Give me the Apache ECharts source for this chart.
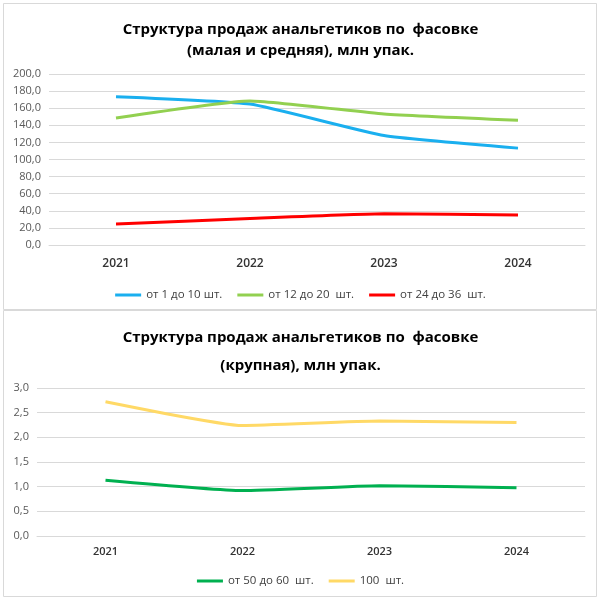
<!DOCTYPE html>
<html><head><meta charset="utf-8">
<script src="https://cdn.jsdelivr.net/npm/echarts@6/dist/echarts.min.js"></script>
<style>html,body{margin:0;padding:0;background:#fff}#c{width:601px;height:600px}</style>
</head><body><div id="c"></div>
<script>
const years = ['2021','2022','2023','2024'];
const s1Names = ['от 1 до 10 шт.', 'от 12 до 20  шт.', 'от 24 до 36  шт.'];
const s1_1to10 = [173.5, 164.8, 128.0, 113.3];
const s1_12to20 = [148.5, 168.5, 153.2, 145.8];
const s1_24to36 = [24.6, 31.0, 36.5, 35.0];
const s2Names = ['от 50 до 60  шт.', '100  шт.'];
const s2_50to60 = [1.13, 0.92, 1.02, 0.98];
const s2_100 = [2.72, 2.24, 2.33, 2.30];
const yTicks1 = [0, 200, 20];
const yTicks2 = [0, 3, 0.5];

const font = 'Open Sans';
const chart = echarts.init(document.getElementById('c'), null, {renderer:'canvas'});
const fmt = v => v.toFixed(1).replace('.', ',');
function yAxis(idx, t){
  return {gridIndex: idx, type:'value', min:t[0], max:t[1], interval:t[2],
    axisLine:{show:false}, axisTick:{show:false},
    splitLine:{lineStyle:{color:'#d9d9d9', width:1}},
    axisLabel:{color:'#595959', fontFamily:font, fontSize:11, formatter: fmt, margin:8}};
}
function xAxis(idx, fs, m){
  return {gridIndex: idx, type:'category', data: years, boundaryGap:true,
    axisLine:{show:true, lineStyle:{color:'#d9d9d9'}}, axisTick:{show:false},
    axisLabel:{color:'#333333', fontFamily:font, fontSize:fs, fontWeight:600, margin:m}};
}
function line(name, data, color, idx){
  return {name, type:'line', data, xAxisIndex:idx, yAxisIndex:idx, symbol:'none',
    smooth:0.15, lineStyle:{color, width:3}, itemStyle:{color}};
}
chart.setOption({
  backgroundColor:'#fff',
  animation:false,
  graphic:[
    {type:'rect', shape:{x:3.5, y:3.5, width:593, height:306}, style:{fill:'none', stroke:'#d9d9d9', lineWidth:1}},
    {type:'rect', shape:{x:3.5, y:310.5, width:593, height:286}, style:{fill:'none', stroke:'#d9d9d9', lineWidth:1}}
  ],
  title:[
    {text:'Структура продаж анальгетиков по  фасовке\n(малая и средняя), млн упак.', left:'center', top:14,
     textStyle:{fontFamily:font, fontSize:15, fontWeight:'bold', color:'#000', lineHeight:21}},
    {text:'Структура продаж анальгетиков по  фасовке\n(крупная), млн упак.', left:'center', top:319,
     textStyle:{fontFamily:font, fontSize:15, fontWeight:'bold', color:'#000', lineHeight:28}}
  ],
  legend:[
    {data:s1Names, top:284, left:'center', icon:'rect', itemWidth:26, itemHeight:3, itemGap:15,
     textStyle:{fontFamily:font, fontSize:11.5, color:'#404040'}},
    {data:s2Names, top:570, left:'center', icon:'rect', itemWidth:26, itemHeight:3, itemGap:15,
     textStyle:{fontFamily:font, fontSize:11.5, color:'#404040'}}
  ],
  grid:[
    {left:49, right:16, top:74, height:171, containLabel:false},
    {left:37, right:16, top:388, height:148, containLabel:false}
  ],
  xAxis:[xAxis(0, 12, 13), xAxis(1, 11, 10)],
  yAxis:[yAxis(0, yTicks1), yAxis(1, yTicks2)],
  series:[
    line(s1Names[0], s1_1to10, '#1AAFEF', 0),
    line(s1Names[1], s1_12to20, '#92D050', 0),
    line(s1Names[2], s1_24to36, '#FF0000', 0),
    line(s2Names[0], s2_50to60, '#00B050', 1),
    line(s2Names[1], s2_100, '#FFD966', 1)
  ]
});
</script></body></html>
